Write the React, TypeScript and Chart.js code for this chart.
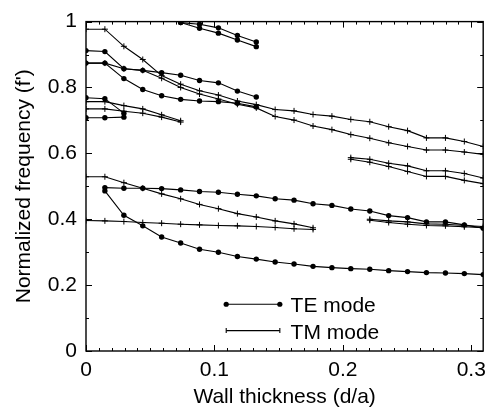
import React, { useEffect, useRef } from 'react';
import { Chart, registerables } from 'chart.js';

Chart.register(...registerables);

// Wall thickness grid (d/a)
const X = [0, 0.0147, 0.0295, 0.0442, 0.0589, 0.0737, 0.0884, 0.1031, 0.1179, 0.1326, 0.1473,
  0.1620, 0.1768, 0.1915, 0.2062, 0.2210, 0.2357, 0.2504, 0.2651, 0.2799, 0.2946, 0.3093];

const _ = null;
// TE modes (dots)
const TE_TOP1 = [_, _, _, _, _, 0.997, 0.992, 0.981, 0.958, 0.938];
const TE_TOP2 = [_, _, _, _, _, 0.997, 0.980, 0.965, 0.944, 0.924];
const TE_1 = [0.912, 0.909, 0.857, 0.852, 0.845, 0.837, 0.821, 0.814, 0.789, 0.771];
const TE_2 = [0.874, 0.874, 0.827, 0.794, 0.775, 0.764, 0.759, 0.757, 0.752, 0.741];
const TE_3 = [0.769, 0.766, 0.722];
const TE_4 = [0.708, 0.708, 0.710];
const TE_5 = [_, 0.496, 0.494, 0.494, 0.493, 0.489, 0.484, 0.482, 0.476, 0.471, 0.462, 0.458,
  0.447, 0.442, 0.431, 0.425, 0.411, 0.405, 0.392, 0.392, 0.383, 0.373];
const TE_6 = [_, 0.486, 0.412, 0.380, 0.346, 0.328, 0.309, 0.300, 0.287, 0.279, 0.270, 0.264,
  0.257, 0.253, 0.250, 0.248, 0.244, 0.241, 0.238, 0.237, 0.235, 0.232];

// TM modes (crosses)
const TM_A = [0.977, 0.977, 0.925, 0.885, 0.836, 0.810, 0.790, 0.777, 0.759, 0.748, 0.733, 0.729,
  0.718, 0.713, 0.703, 0.696, 0.681, 0.669, 0.647, 0.647, 0.636, 0.621];
const TM_B = [0.874, 0.874, 0.857, 0.852, 0.828, 0.800, 0.780, 0.765, 0.749, 0.738, 0.712, 0.701,
  0.683, 0.672, 0.657, 0.646, 0.632, 0.621, 0.610, 0.610, 0.604, 0.597];
const TM_3 = [0.757, 0.757, 0.745, 0.735, 0.717, 0.699];
const TM_4 = [0.735, 0.735, 0.728, 0.722, 0.710, 0.695];
const TM_5 = [0.529, 0.529, 0.511, 0.494, 0.477, 0.462, 0.445, 0.432, 0.417, 0.407, 0.395, 0.386, 0.374];
const TM_6 = [0.396, 0.395, 0.393, 0.390, 0.388, 0.385, 0.383, 0.381, 0.380, 0.378, 0.375, 0.371, 0.369];
const TM_7 = [_, _, _, _, _, _, _, _, _, _, _, _, _, _, _, 0.400, 0.395, 0.392, 0.386, 0.385, 0.381, 0.378];
const TM_8 = [_, _, _, _, _, _, _, _, _, _, _, _, _, _, _, 0.397, 0.390, 0.385, 0.381, 0.380, 0.377, 0.374];
const TM_9 = [_, _, _, _, _, _, _, _, _, _, _, _, _, _, 0.587, 0.582, 0.570, 0.562, 0.547, 0.547, 0.539, 0.525];
const TM_10 = [_, _, _, _, _, _, _, _, _, _, _, _, _, _, 0.582, 0.573, 0.560, 0.545, 0.530, 0.530, 0.518, 0.508];

const TE_SERIES = [TE_TOP1, TE_TOP2, TE_1, TE_2, TE_3, TE_4, TE_5, TE_6];
const TM_SERIES = [TM_A, TM_B, TM_3, TM_4, TM_5, TM_6, TM_7, TM_8, TM_9, TM_10];

const X_TICKS = [0, 0.1, 0.2, 0.3];
const Y_TICKS = [0, 0.2, 0.4, 0.6, 0.8, 1];
const X_MAX = 0.3093;
const LEGEND_LABELS = ['TE mode', 'TM mode'];
const X_TITLE = 'Wall thickness (d/a)';
const Y_TITLE = "Normalized frequency (f')";

const FONT = '"Liberation Sans", Arial, Helvetica, sans-serif';

function toPoints(ys: (number | null)[]) {
  const pts: { x: number; y: number }[] = [];
  ys.forEach((v, i) => {
    if (v !== null && v !== undefined) pts.push({ x: X[i], y: v });
  });
  return pts;
}

const framePlugin = {
  id: 'frame',
  afterDatasetsDraw(chart: any) {
    const { ctx, chartArea, scales } = chart;
    const { left, right, top, bottom } = chartArea;
    const xs = scales.x;
    const ys = scales.y;
    ctx.save();
    ctx.strokeStyle = '#000';
    ctx.lineWidth = 1.4;
    ctx.strokeRect(left, top, right - left, bottom - top);
    ctx.lineWidth = 1;
    ctx.beginPath();
    for (let k = 0; k <= 30; k++) {
      const v = k / 100;
      const px = Math.round(xs.getPixelForValue(v)) + 0.5;
      const len = k % 10 === 0 ? 6 : 3;
      ctx.moveTo(px, bottom);
      ctx.lineTo(px, bottom - len);
      ctx.moveTo(px, top);
      ctx.lineTo(px, top + len);
    }
    for (let k = 0; k <= 10; k++) {
      const v = k / 10;
      const py = Math.round(ys.getPixelForValue(v)) + 0.5;
      const len = k % 2 === 0 ? 6 : 3;
      ctx.moveTo(left, py);
      ctx.lineTo(left + len, py);
      ctx.moveTo(right, py);
      ctx.lineTo(right - len, py);
    }
    ctx.stroke();

    // legend
    const w = right - left;
    const h = bottom - top;
    const x1 = left + 0.353 * w;
    const x2 = left + 0.488 * w;
    const tx = left + 0.515 * w;
    const rows = [top + 0.858 * h, top + 0.938 * h];
    ctx.lineWidth = 1.1;
    rows.forEach((yy, r) => {
      ctx.beginPath();
      ctx.moveTo(x1, yy);
      ctx.lineTo(x2, yy);
      ctx.stroke();
      if (r === 0) {
        [x1, x2].forEach((xx) => {
          ctx.beginPath();
          ctx.arc(xx, yy, 2.6, 0, Math.PI * 2);
          ctx.fillStyle = '#000';
          ctx.fill();
        });
      } else {
        [x1, x2].forEach((xx) => {
          ctx.beginPath();
          ctx.moveTo(xx, yy - 2.5);
          ctx.lineTo(xx, yy + 2.5);
          ctx.stroke();
        });
      }
      ctx.fillStyle = '#000';
      ctx.font = `21px ${FONT}`;
      ctx.textBaseline = 'alphabetic';
      ctx.textAlign = 'left';
      ctx.fillText(LEGEND_LABELS[r], tx, yy + 8);
    });
    ctx.restore();
  },
};

export default function App() {
  const ref = useRef<HTMLCanvasElement | null>(null);
  useEffect(() => {
    document.body.style.margin = '0';
    const canvas = ref.current;
    if (!canvas) return;
    const datasets: any[] = [];
    TE_SERIES.forEach((s) => {
      datasets.push({
        data: toPoints(s),
        borderColor: '#000',
        borderWidth: 1.1,
        pointStyle: 'circle',
        pointRadius: 2.7,
        pointBackgroundColor: '#000',
        pointBorderWidth: 0,
        tension: 0,
        fill: false,
      });
    });
    TM_SERIES.forEach((s) => {
      datasets.push({
        data: toPoints(s),
        borderColor: '#000',
        borderWidth: 1.1,
        pointStyle: 'cross',
        pointRadius: 3,
        pointBorderColor: '#000',
        pointBorderWidth: 1,
        tension: 0,
        fill: false,
      });
    });
    const chart = new Chart(canvas, {
      type: 'line',
      data: { datasets },
      options: {
        animation: false,
        responsive: false,
        devicePixelRatio: 1,
        layout: { padding: { top: 13, right: 5, left: 0, bottom: 0 } },
        plugins: { legend: { display: false }, tooltip: { enabled: false } },
        scales: {
          x: {
            type: 'linear',
            min: 0,
            max: X_MAX,
            grid: { display: false, drawTicks: false },
            border: { display: false },
            afterBuildTicks: (s: any) => {
              s.ticks = X_TICKS.map((v) => ({ value: v }));
            },
            afterFit: (s: any) => {
              s.height = 64;
            },
            ticks: {
              padding: 7,
              color: '#000',
              font: { family: FONT, size: 21 },
              maxRotation: 0,
              callback: (v: any) => String(v),
            },
            title: {
              display: true,
              text: X_TITLE,
              color: '#000',
              font: { family: FONT, size: 21 },
              padding: { top: 0, bottom: 5 },
            },
          },
          y: {
            type: 'linear',
            min: 0,
            max: 1,
            grid: { display: false, drawTicks: false },
            border: { display: false },
            afterBuildTicks: (s: any) => {
              s.ticks = Y_TICKS.map((v) => ({ value: v }));
            },
            afterFit: (s: any) => {
              s.width = 86;
            },
            ticks: {
              padding: 9,
              color: '#000',
              font: { family: FONT, size: 21 },
              callback: (v: any) => String(v),
            },
            title: {
              display: true,
              text: Y_TITLE,
              color: '#000',
              font: { family: FONT, size: 21 },
              padding: { top: 12, bottom: 0 },
            },
          },
        },
      },
      plugins: [framePlugin],
    });
    return () => chart.destroy();
  }, []);
  return (
    <canvas ref={ref} width={493} height={415} style={{ display: 'block' }} />
  );
}
